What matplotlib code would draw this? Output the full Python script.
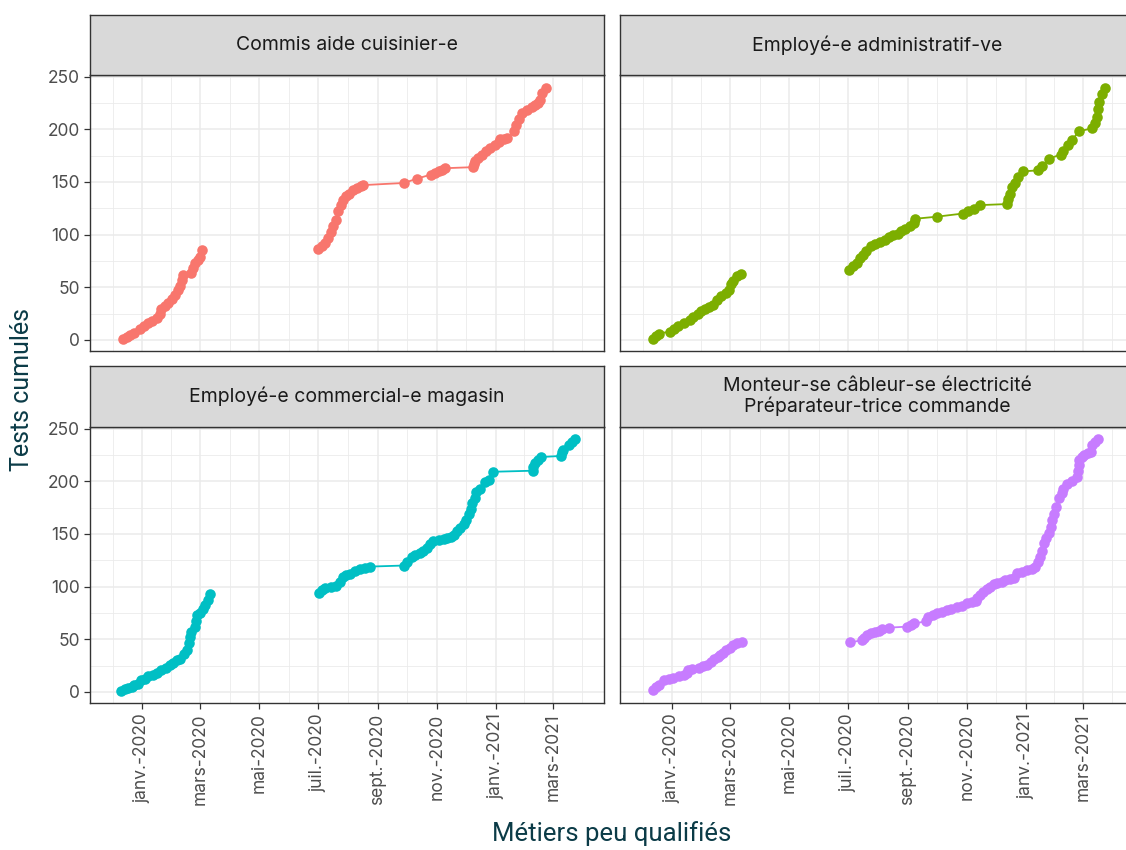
import numpy as np
import matplotlib
matplotlib.use("Agg")
import matplotlib.pyplot as plt
import matplotlib.dates as mdates

plt.rcParams['font.family'] = ['Inter', 'DejaVu Sans']

# Valeurs : jours depuis le 1er janvier 2020 et tests cumulés
origine = np.datetime64("2020-01-01")

metiers = ["Commis aide cuisinier-e",
           "Employé-e administratif-ve",
           "Employé-e commercial-e magasin",
           "Monteur-se câbleur-se électricité\nPréparateur-trice commande"]
couleurs = ["#F8766D", "#7CAE00", "#00BFC4", "#C77CFF"]

commis_jours = [-20, -16, -13, -8, -2, 2, 6, 10, 15, 18, 20, 24, 27, 31, 34, 37, 39, 41, 42, 51,
                53, 55, 58, 60, 62,
                182, 186, 189, 192, 195, 198, 201, 203, 206, 208, 211, 214, 218, 222, 226, 229,
                271, 284, 299, 303, 307, 310, 313, 342, 343, 344, 348, 352, 356, 360, 365, 369,
                370, 374, 378, 385, 387, 390, 393, 398, 403, 407, 410, 412, 414, 418]
commis_tests = [1, 3, 5, 7, 10, 13, 16, 18, 21, 25, 29, 32, 35, 39, 43, 47, 51, 57, 62, 64,
                68, 73, 76, 79, 85,
                86, 89, 92, 97, 102, 108, 114, 122, 128, 133, 137, 139, 142, 144, 146, 147,
                149, 153, 157, 158, 160, 161, 163, 164, 167, 170, 173, 176, 179, 182, 185, 188,
                191, 191, 192, 198, 204, 210, 215, 218, 221, 223, 225, 228, 234, 239]

admin_jours = [-20, -17, -14, -2, 2, 6, 12, 18, 22, 27, 30, 34, 38, 42, 46, 51, 56, 59, 61, 63,
               67, 71,
               183, 187, 191, 194, 198, 201, 206, 210, 215, 220, 224, 229, 234, 237, 241, 246,
               250, 251, 274, 301, 306, 312, 319, 347, 348, 350, 352, 355, 358, 363, 379, 383,
               390, 402, 405, 410, 414, 421, 435, 438, 440, 441, 442, 445, 448]
admin_tests = [1, 4, 6, 8, 10, 13, 16, 19, 22, 25, 27, 29, 31, 33, 38, 42, 45, 47, 53, 56,
               61, 63,
               66, 70, 73, 78, 81, 84, 89, 91, 93, 95, 98, 100, 101, 103, 105, 108,
               111, 115, 117, 120, 122, 124, 128, 129, 134, 139, 145, 149, 155, 160, 161, 165,
               172, 176, 179, 185, 190, 198, 201, 206, 212, 219, 226, 233, 239]

magasin_jours = [-22, -18, -15, -11, -8, -4, -1, 3, 6, 11, 15, 20, 25, 29, 32, 36, 39, 43, 46, 48,
                 50, 51, 55, 56, 57, 60, 63, 65, 68, 70,
                 183, 186, 189, 195, 201, 205, 208, 211, 215, 220, 225, 231, 236, 271, 274, 279,
                 282, 288, 291, 295, 298, 301, 307, 312, 315, 320, 323, 326, 329, 333, 335, 338,
                 340, 341, 344, 346, 350, 355, 359, 363, 404, 405, 407, 410, 413, 433, 435, 436,
                 442, 445, 448]
magasin_tests = [1, 3, 4, 5, 7, 8, 11, 12, 15, 16, 18, 21, 23, 26, 27, 30, 31, 36, 40, 46,
                 52, 57, 62, 67, 73, 75, 79, 83, 87, 93,
                 94, 97, 99, 100, 101, 104, 109, 111, 112, 115, 117, 118, 119, 120, 123, 128,
                 130, 132, 134, 137, 140, 143, 144, 145, 146, 147, 149, 153, 156, 159, 163, 169,
                 174, 179, 184, 190, 193, 199, 201, 209, 210, 214, 217, 220, 223, 224, 228, 230,
                 234, 237, 240]

monteur_jours = [-20, -17, -14, -8, -3, 1, 7, 12, 15, 16, 21, 28, 32, 36, 40, 43, 47, 50, 53, 56,
                 60, 63, 67, 72,
                 184, 196, 199, 202, 206, 210, 214, 217, 224, 243, 247, 250, 263, 265, 270, 274,
                 279, 284, 289, 295, 300, 305, 310, 314, 316, 319, 322, 326, 329, 333, 336, 341,
                 345, 350, 354, 357, 362, 367, 372, 376, 379, 381, 383, 385, 387, 390, 392, 393,
                 395, 397, 400, 403, 405, 409, 414, 419, 420, 421, 421, 424, 426, 430, 433, 435,
                 438, 441]
monteur_tests = [2, 5, 7, 11, 12, 13, 15, 16, 18, 21, 22, 23, 25, 26, 28, 31, 33, 35, 37, 40,
                 42, 45, 46, 47,
                 47, 49, 51, 54, 56, 57, 58, 60, 61, 62, 64, 65, 67, 71, 73, 75,
                 76, 78, 79, 81, 82, 84, 85, 86, 89, 92, 95, 98, 100, 102, 103, 104,
                 106, 107, 108, 113, 114, 116, 117, 119, 123, 128, 134, 141, 146, 151, 157, 163,
                 169, 176, 184, 189, 193, 197, 200, 204, 210, 215, 220, 223, 225, 227, 228, 234,
                 237, 240]

series = [(commis_jours, commis_tests), (admin_jours, admin_tests),
          (magasin_jours, magasin_tests), (monteur_jours, monteur_tests)]

mois_ticks = ["2020-01-01", "2020-03-01", "2020-05-01", "2020-07-01",
              "2020-09-01", "2020-11-01", "2021-01-01", "2021-03-01"]
mois_labels = ["janv.-2020", "mars-2020", "mai-2020", "juil.-2020",
               "sept.-2020", "nov.-2020", "janv.-2021", "mars-2021"]
y_ticks = [0, 50, 100, 150, 200, 250]

W, H = 1126, 850
fig = plt.figure(figsize=(W / 100, H / 100), dpi=100)


def rect(x0, y0, x1, y1):
    return [x0 / W, 1 - y1 / H, (x1 - x0) / W, (y1 - y0) / H]


# positions (pixels) des panneaux et des bandeaux
cols = [(90, 604), (620, 1134)]
rows = [((15, 75), (75, 351)), ((366, 427), (427, 703))]

major = mdates.date2num(np.array(mois_ticks, dtype="datetime64[D]"))
ext = np.concatenate([[mdates.date2num(np.datetime64("2019-11-01"))], major,
                      [mdates.date2num(np.datetime64("2021-05-01"))]])
minor = (ext[:-1] + ext[1:]) / 2
xlim = mdates.date2num(np.array(["2019-11-08", "2021-04-23"], dtype="datetime64[D]"))

for i, (nom, col, (jours, tests)) in enumerate(zip(metiers, couleurs, series)):
    r, c = divmod(i, 2)
    (sy0, sy1), (py0, py1) = rows[r]
    x0, x1 = cols[c]

    ax = fig.add_axes(rect(x0, py0, x1, py1))
    dates = origine + np.array(jours).astype("timedelta64[D]")
    tests = np.array(tests)
    # coupure de la ligne pendant la période sans tests
    coupes = np.where(np.diff(np.array(jours)) > 90)[0] + 1
    for d, t in zip(np.split(dates, coupes), np.split(tests, coupes)):
        ax.plot(d, t, color=col, lw=1.3, zorder=3)
        ax.plot(d, t, "o", color=col, ms=7.6, mew=0, zorder=4)

    ax.set_xlim(xlim)
    ax.set_ylim(-10.5, 251.5)
    ax.set_xticks(major)
    ax.set_xticks(minor, minor=True)
    ax.set_yticks(y_ticks)
    ax.set_yticks([25, 75, 125, 175, 225], minor=True)
    ax.set_xticklabels(mois_labels, rotation=90)
    ax.grid(which="major", color="#EBEBEB", lw=1.1)
    ax.grid(which="minor", color="#EBEBEB", lw=0.6)
    ax.set_axisbelow(True)
    for s in ax.spines.values():
        s.set_color("#333333")
        s.set_linewidth(1.0)
    ax.tick_params(which="major", length=4, width=0.9, color="#333333",
                   labelcolor="#4D4D4D", labelsize=12.5, pad=3.5)
    ax.tick_params(which="minor", length=0)
    if r == 0:
        ax.tick_params(which="both", bottom=False, labelbottom=False)
    if c == 1:
        ax.tick_params(which="both", left=False, labelleft=False)

    sx = fig.add_axes(rect(x0, sy0, x1, sy1))
    sx.set_facecolor("#D9D9D9")
    sx.set_xticks([])
    sx.set_yticks([])
    for s in sx.spines.values():
        s.set_color("#333333")
        s.set_linewidth(1.0)
    sx.text(0.5, 0.5, nom, ha="center", va="center", fontsize=14,
            color="#1A1A1A", linespacing=1.1, transform=sx.transAxes)

fig.text(22 / W, 1 - 390 / H, "Tests cumulés", rotation=90, ha="center", va="center",
         fontsize=18, color="#0B3B47", family=["Roboto", "DejaVu Sans"])
fig.text(612 / W, 1 - 834 / H, "Métiers peu qualifiés", ha="center", va="center",
         fontsize=18.5, color="#0B3B47", family=["Roboto", "DejaVu Sans"])

fig.savefig("out.png", dpi=100, facecolor="white")
